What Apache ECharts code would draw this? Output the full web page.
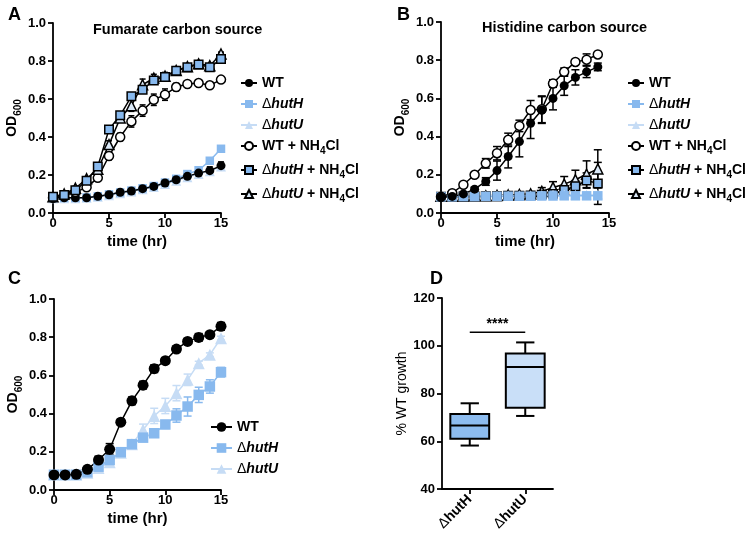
<!DOCTYPE html>
<html><head><meta charset="utf-8">
<script src="https://cdn.jsdelivr.net/npm/echarts@6/dist/echarts.min.js"></script>
<style>html,body{margin:0;padding:0;background:#fff}#c{width:750px;height:535px}</style>
</head><body><div id="c"></div>
<script>
// ---------- DATA ----------
const timeA = [0,1,2,3,4,5,6,7,8,9,10,11,12,13,14,15];
const fumWT    = [0.080,0.080,0.080,0.080,0.088,0.096,0.109,0.116,0.128,0.140,0.158,0.175,0.193,0.210,0.223,0.249];
const fumWTErr = [0.005,0.005,0.005,0.005,0.005,0.006,0.006,0.008,0.008,0.008,0.01,0.012,0.015,0.02,0.02,0.02];
const fumHutH  = [0.080,0.080,0.080,0.082,0.088,0.098,0.108,0.118,0.130,0.142,0.160,0.180,0.205,0.225,0.275,0.338];
const fumHutU  = [0.078,0.078,0.078,0.080,0.085,0.094,0.104,0.113,0.125,0.137,0.152,0.170,0.188,0.205,0.220,0.245];
const fumWTN   = [0.080,0.090,0.110,0.135,0.185,0.300,0.400,0.482,0.539,0.596,0.623,0.663,0.679,0.684,0.672,0.702];
const fumWTNErr= [0.005,0.005,0.01,0.01,0.01,0.02,0.02,0.03,0.03,0.03,0.03,0.02,0.015,0.01,0.015,0.01];
const fumHutHN = [0.085,0.095,0.120,0.170,0.245,0.440,0.514,0.614,0.649,0.698,0.716,0.749,0.767,0.781,0.767,0.810];
const fumHutUN = [0.085,0.100,0.130,0.180,0.230,0.360,0.500,0.565,0.675,0.710,0.720,0.750,0.770,0.785,0.775,0.837];
const fumHutUNErr = [0.005,0.005,0.01,0.01,0.01,0.02,0.02,0.03,0.03,0.02,0.02,0.02,0.015,0.01,0.01,0.01];

const timeB = [0,1,2,3,4,5,6,7,8,9,10,11,12,13,14];
const hisWT    = [0.083,0.087,0.100,0.125,0.165,0.222,0.296,0.374,0.470,0.539,0.600,0.666,0.710,0.739,0.765];
const hisWTErr = [0.005,0.005,0.01,0.01,0.02,0.05,0.06,0.08,0.08,0.07,0.06,0.05,0.04,0.03,0.02];
const hisHutH  = [0.085,0.085,0.086,0.086,0.087,0.087,0.088,0.088,0.088,0.089,0.089,0.090,0.090,0.090,0.090];
const hisHutU  = [0.088,0.088,0.090,0.090,0.090,0.092,0.092,0.093,0.093,0.094,0.095,0.095,0.096,0.096,0.097];
const hisWTN   = [0.085,0.104,0.148,0.200,0.260,0.313,0.383,0.456,0.539,0.543,0.678,0.739,0.791,0.803,0.830];
const hisWTNErr= [0.005,0.005,0.01,0.01,0.025,0.035,0.035,0.03,0.05,0.07,0.02,0.02,0.01,0.03,0.01];
const hisHutHN = [0.085,0.086,0.086,0.087,0.088,0.088,0.090,0.090,0.092,0.095,0.100,0.120,0.140,0.170,0.155];
const hisHutHNErr = [0.003,0.003,0.003,0.003,0.003,0.003,0.004,0.004,0.005,0.01,0.015,0.02,0.03,0.04,0.11];
const hisHutUN = [0.088,0.088,0.089,0.090,0.090,0.092,0.094,0.097,0.100,0.113,0.134,0.151,0.174,0.203,0.231];
const hisHutUNErr = [0.003,0.003,0.003,0.003,0.004,0.005,0.006,0.008,0.01,0.02,0.03,0.04,0.05,0.07,0.10];

const timeC = [0,1,2,3,4,5,6,7,8,9,10,11,12,13,14,15];
const cWT     = [0.079,0.079,0.082,0.108,0.157,0.213,0.355,0.467,0.549,0.635,0.677,0.738,0.778,0.799,0.813,0.857];
const cWTErr  = [0.005,0.005,0.005,0.01,0.02,0.03,0.015,0.02,0.02,0.02,0.015,0.015,0.015,0.02,0.015,0.02];
const cHutH   = [0.080,0.080,0.080,0.093,0.122,0.157,0.198,0.240,0.274,0.297,0.343,0.390,0.437,0.498,0.542,0.617];
const cHutHErr= [0.005,0.005,0.005,0.005,0.01,0.015,0.015,0.015,0.015,0.015,0.02,0.035,0.05,0.04,0.035,0.025];
const cHutU   = [0.080,0.080,0.080,0.090,0.115,0.145,0.195,0.240,0.315,0.388,0.440,0.507,0.577,0.664,0.708,0.795];
const cHutUErr= [0.005,0.005,0.005,0.005,0.01,0.01,0.01,0.015,0.03,0.04,0.04,0.04,0.03,0.01,0.01,0.01];

const boxCategories = ['ΔhutH','ΔhutU'];
// [min, Q1, median, Q3, max]
const boxHutH = [58.2, 61.0, 66.6, 71.4, 75.9];
const boxHutU = [70.6, 74.0, 91.1, 96.8, 101.4];
const sigLevel = 105.7;
const sigText = '****';

// ---------- STYLE ----------
const FONT = '"Liberation Sans", Arial, Helvetica, sans-serif';
const BLUE = '#88b9ee', LBLUE = '#c6dcf5', BLK = '#000';

const RICH = {
  n:{fontFamily:FONT,fontSize:14,fontWeight:'bold',color:BLK,lineHeight:18},
  d:{fontFamily:FONT,fontSize:14,fontWeight:'normal',color:BLK,lineHeight:18},
  i:{fontFamily:FONT,fontSize:14,fontWeight:'bold',fontStyle:'italic',color:BLK,lineHeight:18},
  m:{fontFamily:FONT,fontSize:14,fontWeight:'bold',color:BLK,lineHeight:20},
  dm:{fontFamily:FONT,fontSize:14,fontWeight:'normal',color:BLK,lineHeight:20},
  im:{fontFamily:FONT,fontSize:14,fontWeight:'bold',fontStyle:'italic',color:BLK,lineHeight:20},
  s:{fontFamily:FONT,fontSize:10,fontWeight:'bold',color:BLK,verticalAlign:'bottom',lineHeight:10}
};
const LABELS = {
  WT:'{n|WT}', hutH:'{d|Δ}{i|hutH}', hutU:'{d|Δ}{i|hutU}',
  WTN:'{m|WT + NH}{s|4}{m|Cl}',
  hutHN:'{dm|Δ}{im|hutH}{m| + NH}{s|4}{m|Cl}',
  hutUN:'{dm|Δ}{im|hutU}{m| + NH}{s|4}{m|Cl}'
};
const STY = {
  WT:{symbol:'circle',fill:BLK,border:BLK,bw:0,line:BLK},
  hutH:{symbol:'rect',fill:BLUE,border:BLUE,bw:0,line:BLUE},
  hutU:{symbol:'triangle',fill:LBLUE,border:LBLUE,bw:0,line:LBLUE},
  WTN:{symbol:'circle',fill:'#fff',border:BLK,bw:1.5,line:BLK},
  hutHN:{symbol:'rect',fill:BLUE,border:BLK,bw:1.5,line:BLK},
  hutUN:{symbol:'triangle',fill:'#dbe9f8',border:BLK,bw:1.5,line:BLK}
};

function lineS(panel, key, gi, xs, ys, size) {
  const s = STY[key];
  return {type:'line', name:panel+'_'+key, xAxisIndex:gi, yAxisIndex:gi,
    data: xs.map((x,i)=>[x, ys[i]]), symbol:s.symbol,
    symbolSize: s.symbol==='triangle' ? size+1 : (s.symbol==='rect' ? size-0.5 : size),
    itemStyle:{color:s.fill, borderColor:s.border, borderWidth:s.bw},
    lineStyle:{color:s.line, width:1.5}, emphasis:{disabled:true}, silent:true, animation:false};
}
function errS(gi, xs, ys, es, color, cap) {
  return {type:'custom', xAxisIndex:gi, yAxisIndex:gi, silent:true, animation:false,
    data: xs.map((x,i)=>[x, ys[i], es[i]]), encode:{x:0, y:1},
    renderItem: function(params, api){
      const x = api.value(0), y = api.value(1), e = api.value(2);
      const hi = api.coord([x, y+e]), lo = api.coord([x, y-e]);
      const st = {stroke:color, lineWidth:1.5};
      return {type:'group', children:[
        {type:'line', shape:{x1:hi[0],y1:hi[1],x2:lo[0],y2:lo[1]}, style:st},
        {type:'line', shape:{x1:hi[0]-cap,y1:hi[1],x2:hi[0]+cap,y2:hi[1]}, style:st},
        {type:'line', shape:{x1:lo[0]-cap,y1:lo[1],x2:lo[0]+cap,y2:lo[1]}, style:st}
      ]};
    }};
}

const axisLine = {show:true, lineStyle:{color:BLK, width:1.8}};
const axisTick = {show:true, inside:false, length:5, lineStyle:{color:BLK, width:1.8}};
const tickLabel = {color:BLK, fontFamily:FONT, fontSize:13, fontWeight:'bold'};
const nameRich = {
  b:{fontFamily:FONT,fontSize:14,fontWeight:'bold',color:BLK,lineHeight:22},
  s:{fontFamily:FONT,fontSize:10,fontWeight:'bold',color:BLK,verticalAlign:'bottom',lineHeight:11}
};

function timeX(gi) {
  return {type:'value', gridIndex:gi, min:0, max:15, interval:5,
    axisLine, axisTick, splitLine:{show:false},
    axisLabel:Object.assign({margin:4}, tickLabel),
    name:'time (hr)', nameLocation:'middle', nameGap:21,
    nameTextStyle:{fontFamily:FONT,fontSize:15,fontWeight:'bold',color:BLK}};
}
function odY(gi) {
  return {type:'value', gridIndex:gi, min:0, max:1, interval:0.2,
    axisLine, axisTick, splitLine:{show:false},
    axisLabel:Object.assign({margin:7, formatter:v=>v.toFixed(1)}, tickLabel),
    name:'{b|OD}{s|600}', nameLocation:'middle', nameGap:30, nameRotate:90,
    nameTextStyle:{rich:nameRich}};
}
function legend(panel, keys, left, top, w, h, gap) {
  return {data: keys.map(k=>panel+'_'+k), orient:'vertical', left, top,
    itemWidth:w, itemHeight:h, itemGap:gap, selectedMode:false, padding:0,
    formatter: n => LABELS[n.split('_')[1]],
    textStyle:{fontFamily:FONT,fontSize:14,fontWeight:'bold',color:BLK,rich:RICH}};
}

const series = [];
// Panel A
series.push(lineS('A','hutU',0,timeA,fumHutU,9));
series.push(lineS('A','hutH',0,timeA,fumHutH,9));
series.push(errS(0,timeA,fumWT,fumWTErr,BLK,3));
series.push(lineS('A','WT',0,timeA,fumWT,9));
series.push(errS(0,timeA,fumWTN,fumWTNErr,BLK,3));
series.push(lineS('A','WTN',0,timeA,fumWTN,9));
series.push(errS(0,timeA,fumHutUN,fumHutUNErr,BLK,3));
series.push(lineS('A','hutUN',0,timeA,fumHutUN,9));
series.push(lineS('A','hutHN',0,timeA,fumHutHN,9));
// Panel B
series.push(errS(1,timeB,hisHutUN,hisHutUNErr,BLK,4));
series.push(lineS('B','hutUN',1,timeB,hisHutUN,9));
series.push(errS(1,timeB,hisHutHN,hisHutHNErr,BLK,4));
series.push(lineS('B','hutHN',1,timeB,hisHutHN,9));
series.push(lineS('B','hutU',1,timeB,hisHutU,9));
series.push(lineS('B','hutH',1,timeB,hisHutH,10));
series.push(errS(1,timeB,hisWTN,hisWTNErr,BLK,4));
series.push(lineS('B','WTN',1,timeB,hisWTN,9));
series.push(errS(1,timeB,hisWT,hisWTErr,BLK,4));
series.push(lineS('B','WT',1,timeB,hisWT,9));
// Panel C
series.push(errS(2,timeC,cHutU,cHutUErr,LBLUE,4));
series.push(lineS('C','hutU',2,timeC,cHutU,11));
series.push(errS(2,timeC,cHutH,cHutHErr,BLUE,4));
series.push(lineS('C','hutH',2,timeC,cHutH,11));
series.push(errS(2,timeC,cWT,cWTErr,BLK,4));
series.push(lineS('C','WT',2,timeC,cWT,11));
// Panel D box plots
series.push({type:'custom', xAxisIndex:3, yAxisIndex:3, silent:true, animation:false,
  data:[[0].concat(boxHutH),[1].concat(boxHutU)], encode:{x:0, y:[1,2,3,4,5]},
  renderItem: function(params, api){
    const c = api.value(0);
    const pMin = api.coord([c, api.value(1)]), pQ1 = api.coord([c, api.value(2)]),
          pMed = api.coord([c, api.value(3)]), pQ3 = api.coord([c, api.value(4)]),
          pMax = api.coord([c, api.value(5)]);
    const band = api.size([1,0])[0];
    const hw = band*0.35, cw = band*0.165, x = pMin[0];
    const st = {stroke:BLK, lineWidth:2};
    return {type:'group', children:[
      {type:'line', shape:{x1:x,y1:pMax[1],x2:x,y2:pQ3[1]}, style:st},
      {type:'line', shape:{x1:x,y1:pMin[1],x2:x,y2:pQ1[1]}, style:st},
      {type:'line', shape:{x1:x-cw,y1:pMax[1],x2:x+cw,y2:pMax[1]}, style:st},
      {type:'line', shape:{x1:x-cw,y1:pMin[1],x2:x+cw,y2:pMin[1]}, style:st},
      {type:'rect', shape:{x:x-hw,y:pQ3[1],width:2*hw,height:pQ1[1]-pQ3[1]},
        style:{fill: c===0?'#8dbcef':'#c9dff8', stroke:BLK, lineWidth:2}},
      {type:'line', shape:{x1:x-hw,y1:pMed[1],x2:x+hw,y2:pMed[1]}, style:st}
    ]};
  }});
series.push({type:'custom', xAxisIndex:3, yAxisIndex:3, silent:true, animation:false,
  data:[[0,1,sigLevel]], encode:{x:0,y:2},
  renderItem: function(params, api){
    const a = api.coord([api.value(0), api.value(2)]), b = api.coord([api.value(1), api.value(2)]);
    return {type:'group', children:[
      {type:'line', shape:{x1:a[0],y1:a[1],x2:b[0],y2:b[1]}, style:{stroke:BLK,lineWidth:1.5}},
      {type:'text', style:{text:sigText, x:(a[0]+b[0])/2, y:a[1]-1, align:'center', verticalAlign:'bottom',
        fontFamily:FONT, fontSize:14, fontWeight:'bold', fill:BLK}}
    ]};
  }});

const option = {
  animation:false,
  backgroundColor:'#fff',
  title:[
    {text:'A', left:3, top:1, textStyle:{fontFamily:FONT,fontSize:18,fontWeight:'bold',color:BLK}},
    {text:'Fumarate carbon source', left:88, top:17, textStyle:{fontFamily:FONT,fontSize:14.5,fontWeight:'bold',color:BLK}},
    {text:'B', left:392, top:1, textStyle:{fontFamily:FONT,fontSize:18,fontWeight:'bold',color:BLK}},
    {text:'Histidine carbon source', left:477, top:15, textStyle:{fontFamily:FONT,fontSize:14.5,fontWeight:'bold',color:BLK}},
    {text:'C', left:3, top:265, textStyle:{fontFamily:FONT,fontSize:18,fontWeight:'bold',color:BLK}},
    {text:'D', left:425, top:265, textStyle:{fontFamily:FONT,fontSize:18,fontWeight:'bold',color:BLK}}
  ],
  grid:[
    {left:53, top:23, width:168, height:190, outerBoundsMode:'none'},
    {left:441, top:22, width:168, height:191, outerBoundsMode:'none'},
    {left:54, top:299, width:167, height:191, outerBoundsMode:'none'},
    {left:442, top:298, width:111, height:191, outerBoundsMode:'none'}
  ],
  xAxis:[timeX(0), timeX(1), timeX(2),
    {type:'category', gridIndex:3, data:boxCategories, axisLine,
     axisTick:Object.assign({alignWithLabel:true}, axisTick),
     axisLabel:{rotate:45, margin:8, interval:0, formatter: v => '{d|Δ}{b|' + v.slice(1) + '}',
       rich:{d:{fontFamily:FONT,fontSize:14,color:BLK}, b:{fontFamily:FONT,fontSize:14,fontWeight:'bold',color:BLK}}}}
  ],
  yAxis:[odY(0), odY(1), odY(2),
    {type:'value', gridIndex:3, min:40, max:120, interval:20, axisLine, axisTick, splitLine:{show:false},
     axisLabel:Object.assign({margin:7}, tickLabel),
     name:'% WT growth', nameLocation:'middle', nameGap:31, nameRotate:90,
     nameTextStyle:{fontFamily:FONT,fontSize:14,color:BLK}}
  ],
  legend:[
    legend('A',['WT','hutH','hutU','WTN','hutHN','hutUN'],240,76,16,10,7),
    legend('B',['WT','hutH','hutU','WTN','hutHN','hutUN'],627,76,16,10,7),
    legend('C',['WT','hutH','hutU'],210,420,21,12,7)
  ],
  series
};
echarts.init(document.getElementById('c'), null, {renderer:'canvas'}).setOption(option);
</script></body></html>
